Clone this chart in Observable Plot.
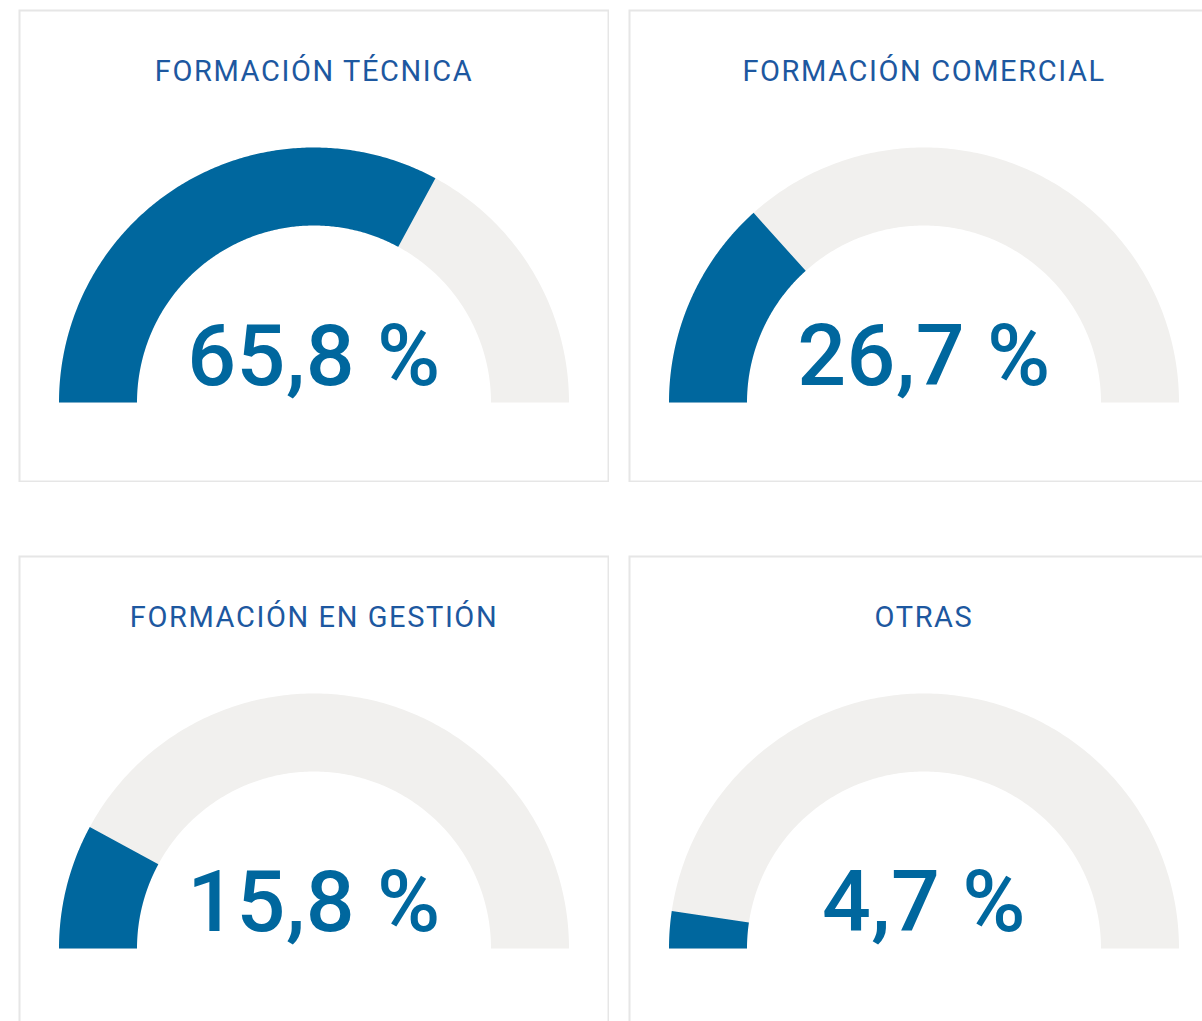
<!DOCTYPE html>
<html>
<head>
<meta charset="utf-8">
<script src="https://cdn.jsdelivr.net/npm/d3@7"></script>
<script src="https://cdn.jsdelivr.net/npm/@observablehq/plot@0.6"></script>
<style>
  html, body { margin: 0; padding: 0; background: #fff; }
  #root { position: relative; width: 1202px; height: 1021px; overflow: hidden; }
  .panel { position: absolute; width: 591px; height: 473px; }
  .panel svg { display: block; max-width: none !important; }
</style>
</head>
<body>
<div id="root"></div>
<script>
const titles = ["FORMACIÓN TÉCNICA", "FORMACIÓN COMERCIAL", "FORMACIÓN EN GESTIÓN", "OTRAS"];
const values = [65.8, 26.7, 15.8, 4.7];
const valueLabels = ["65,8 %", "26,7 %", "15,8 %", "4,7 %"];
const maxValue = 100;

const panelW = 591, panelH = 473;
const positions = [[18, 9], [628, 9], [18, 555], [628, 555]];
const R = 255, r = 177;
const cx = 295.5, cy = 393;

function ring(t0, t1, part) {
  const n = 240, pts = [];
  const ri = r / R;
  for (let i = 0; i <= n; i++) {
    const t = t0 + (t1 - t0) * i / n;
    const a = Math.PI * (1 - t);
    pts.push({x: Math.cos(a), y: Math.sin(a), part});
  }
  for (let i = n; i >= 0; i--) {
    const t = t0 + (t1 - t0) * i / n;
    const a = Math.PI * (1 - t);
    pts.push({x: ri * Math.cos(a), y: ri * Math.sin(a), part});
  }
  return pts;
}

const root = document.getElementById("root");
titles.forEach((title, i) => {
  const frac = values[i] / maxValue;
  const bg = ring(0, 1, "bg");
  const fg = ring(0, frac, "fg");
  const chart = Plot.plot({
    width: panelW, height: panelH,
    margin: 0,
    x: {domain: [-cx / R, (panelW - cx) / R], range: [0, panelW], axis: null},
    y: {domain: [-(panelH - cy) / R, cy / R], range: [panelH, 0], axis: null},
    style: {fontFamily: "Roboto, 'DejaVu Sans', sans-serif", background: "transparent", maxWidth: "none"},
    marks: [
      Plot.line(bg, {x: "x", y: "y", fill: "#f1f0ee", stroke: "none", curve: "linear"}),
      Plot.line(fg, {x: "x", y: "y", fill: "#00679e", stroke: "none", curve: "linear"}),
      Plot.text([title], {x: [0], y: [(cy - 62) / R], text: d => d, fill: "#1d58a0", fontSize: 29, textAnchor: "middle", lineAnchor: "middle"}),
      Plot.text([valueLabels[i]], {x: [0], y: [(cy - 348) / R], text: d => d, fill: "#00679e", fontSize: 86, fontWeight: 500, textAnchor: "middle", lineAnchor: "middle"}),
      Plot.frame({stroke: "#e6e6e6", strokeWidth: 2, inset: 1})
    ]
  });
  d3.select(chart).selectAll("text").filter(function() { return this.textContent === valueLabels[i]; })
    .style("letter-spacing", "0.5px");
  d3.select(chart).selectAll("text").filter(function() { return this.textContent === title; })
    .style("letter-spacing", "1.6px");
  const div = document.createElement("div");
  div.className = "panel";
  div.style.left = positions[i][0] + "px";
  div.style.top = positions[i][1] + "px";
  div.appendChild(chart);
  root.appendChild(div);
});
</script>
</body>
</html>
